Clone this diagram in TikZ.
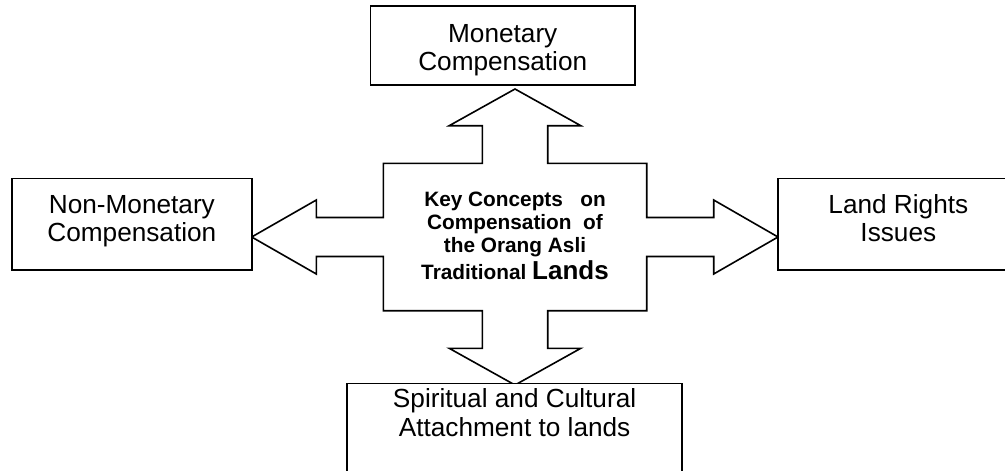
\documentclass[tikz,border=0pt]{standalone}
\usepackage{fontspec}
\setmainfont{Liberation Sans}
\begin{document}
\begin{tikzpicture}[x=1pt,y=-1pt,
    concept/.style={draw,fill=white,line width=1.6pt,align=center,inner sep=0pt,
      font=\fontsize{26.2}{28.5}\selectfont}]
    \useasboundingbox (0,0) rectangle (1005,471);
    \clip (0,0) rectangle (1005,471);

    \node[align=center,inner sep=0pt,text height=90pt,text depth=6pt,
      font=\bfseries\fontsize{20.8}{23.2}\selectfont] (core) at (515,237)
      {Key Concepts\ \ \ on\\Compensation\ \ of\\the Orang Asli\\[2.3pt]Traditional {\fontsize{26}{30}\selectfont Lands}};

    % four-way block arrow round the key concepts
    \draw[line width=1.6pt,line join=miter,shift={(core.center)}]
      (0,-148) -- (65.8,-111.3) -- (32.7,-111.3) -- (32.7,-73.7) -- (131.7,-73.7)
      -- (131.7,-19.5) -- (198.7,-19.5) -- (198.7,-37) -- (263,0) -- (198.7,37) -- (198.7,19.5)
      -- (131.7,19.5) -- (131.7,73.7) -- (32.7,73.7) -- (32.7,111.3) -- (65.8,111.3)
      -- (0,148) -- (-65.8,111.3) -- (-32.7,111.3) -- (-32.7,73.7) -- (-131.7,73.7)
      -- (-131.7,19.5) -- (-198.7,19.5) -- (-198.7,37) -- (-263.3,0) -- (-198.7,-37) -- (-198.7,-19.5)
      -- (-131.7,-19.5) -- (-131.7,-73.7) -- (-32.7,-73.7) -- (-32.7,-111.3) -- (-65.8,-111.3) -- cycle;

    \node[concept,minimum width=264.5pt,minimum height=79pt,text height=50pt,text depth=0pt] (money) at (502.75,45.5)
      {Monetary\\Compensation};
    \node[concept,minimum width=239.7pt,minimum height=91.7pt,text height=40pt,text depth=4.9pt] (nonmoney) at (131.85,224.15)
      {Non-Monetary\\Compensation};
    \node[concept,minimum width=241.3pt,minimum height=91.7pt,text height=40pt,text depth=4.9pt] (rights) at (898.35,224.15)
      {Land Rights\\Issues};
    \node[concept,anchor=north,minimum width=334.7pt,text height=52.5pt,text depth=70pt] (attach) at (514.6,382.7)
      {Spiritual and Cultural\\Attachment to lands};
\end{tikzpicture}
\end{document}
